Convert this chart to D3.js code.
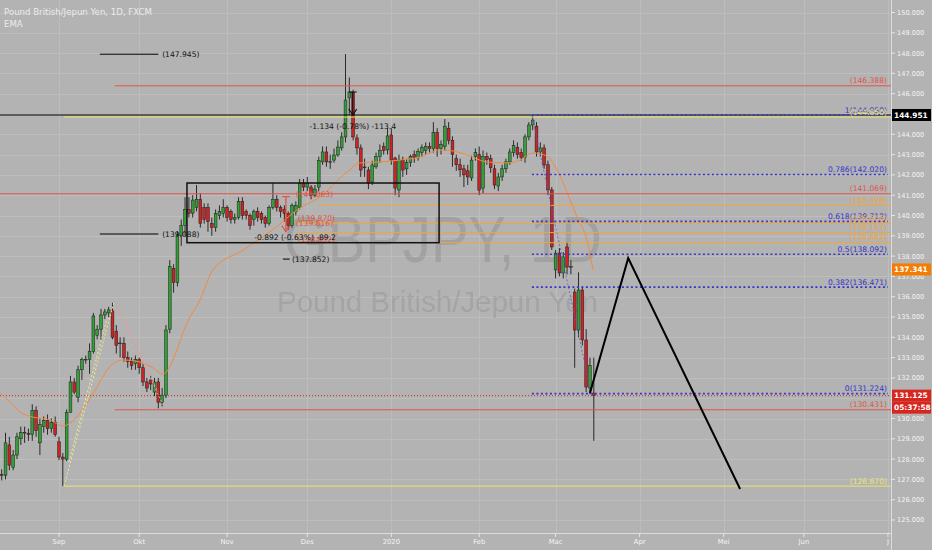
<!DOCTYPE html>
<html><head><meta charset="utf-8">
<script src="https://cdn.jsdelivr.net/npm/d3@7"></script>
<style>body{margin:0;background:#b3b3b3}svg{display:block}</style>
</head><body>
<svg id="c" width="932" height="550"></svg>
<script>
// ---------- DATA ----------
const startIndex = -15; // bar index of first candle (0 = 2 Sep 2019)
const opens = [127.25,127.2,128.7,127.6,128.2,129.0,129.28,129.25,129.2,130.4,128.8,129.6,129.9,129.5,129.8,
128.85,128.1,128.0,130.3,131.8,131.05,132.4,132.88,132.9,133.3,134.1,134.4,135.1,135.2,135.3,134.3,133.68,133.7,133.0,132.8,132.7,132.9,132.5,131.8,131.9,131.3,131.8,130.8,131.15,
134.4,137.4,136.7,139.0,139.5,140.3,140.12,140.4,140.8,140.4,140.4,139.6,139.4,140.0,140.1,140.4,140.2,139.8,139.9,140.7,140.2,140.0,139.8,140.2,140.1,139.9,139.6,140.4,140.8,140.4,140.3,140.1,139.5,140.2,140.4,141.6,141.4,141.4,141.0,
141.4,142.64,143.13,142.62,142.73,142.98,143.33,143.87,145.79,146.08,143.82,143.33,142.35,142.24,141.65,142.4,142.9,143.4,143.23,143.97,142.83,141.26,142.73,142.3,142.6,143.0,142.85,143.1,143.2,143.4,143.3,144.1,143.3,143.4,144.3,143.7,142.8,142.5,142.3,142.2,141.85,142.9,
143.0,141.35,142.9,142.8,142.3,141.45,141.9,142.3,142.64,143.1,143.35,143.1,142.85,143.87,144.46,144.4,143.13,143.33,142.5,141.26,137.32,138.15,137.17,138.45,137.45,136.23,134.36,136.33,133.87,131.5,131.25];
const highs = [127.5,129.3,129.1,128.45,129.3,129.6,129.6,129.5,130.7,130.6,130.0,130.1,130.2,130.0,130.1,
129.1,128.3,130.45,132.1,132.0,132.6,133.0,133.1,133.7,135.2,134.6,135.4,135.4,135.5,135.7,134.6,134.0,134.0,133.3,133.0,133.1,133.0,132.7,132.0,132.1,132.0,132.0,131.5,134.6,
137.8,137.6,139.2,139.8,140.9,140.9,141.0,141.5,141.1,140.6,140.6,139.9,140.3,140.5,140.8,140.5,140.3,140.1,140.9,140.9,140.3,140.1,140.3,140.4,140.2,140.0,140.5,141.6,141.0,140.5,140.5,140.2,140.6,140.7,141.8,141.8,141.9,141.5,141.5,
142.9,143.4,143.4,143.0,143.3,143.7,144.1,147.95,146.8,146.2,144.0,143.5,142.8,142.4,142.7,143.1,143.5,143.6,144.3,144.3,142.9,143.0,142.9,142.8,143.0,143.2,143.3,143.5,143.6,143.6,144.6,144.3,143.7,144.75,144.6,143.9,143.0,142.8,142.5,142.5,142.95,143.3,
143.4,143.2,143.1,143.0,142.5,142.1,142.5,142.8,143.3,143.7,143.6,143.3,144.0,144.6,144.95,144.6,143.6,143.5,142.7,141.4,138.3,138.4,138.2,138.7,137.8,136.4,137.2,136.5,134.4,133.0,133.0];
const lows = [126.95,127.0,127.45,127.45,128.0,128.7,128.8,128.9,128.9,129.1,128.2,129.3,129.2,129.3,129.1,
127.95,126.67,127.9,130.3,131.2,130.8,131.9,132.7,132.2,133.2,133.9,133.9,134.9,135.0,133.9,133.2,133.0,132.8,132.5,132.4,132.4,132.2,131.6,131.3,131.4,131.1,130.5,130.6,131.0,
134.2,136.2,136.5,138.5,139.0,139.9,139.9,140.2,139.4,139.6,139.2,139.0,139.2,139.8,139.9,139.7,139.6,139.6,139.8,139.8,139.8,139.3,139.5,139.7,139.6,139.4,139.5,140.3,140.2,139.9,139.7,139.3,139.4,140.0,140.3,141.2,141.2,140.8,140.9,
141.2,142.5,142.4,142.3,142.6,142.9,143.2,143.6,144.95,143.7,143.0,141.9,141.9,141.3,141.5,142.3,142.6,143.0,143.0,142.5,141.0,140.9,141.9,142.0,142.4,142.6,142.7,142.9,143.0,143.1,143.1,142.9,143.0,143.2,143.5,142.4,142.2,141.9,141.4,141.5,141.7,142.7,
141.0,141.1,142.5,142.1,141.3,141.2,141.7,142.1,142.5,142.9,142.8,142.7,142.6,143.7,144.2,142.9,142.9,142.3,141.0,138.3,136.9,137.0,136.9,137.1,137.1,132.5,134.0,133.6,131.3,131.2,128.9];
const closes = [127.2,128.8,127.7,128.2,129.1,129.3,129.32,129.22,130.4,129.4,129.7,129.9,129.5,129.8,129.2,
128.1,128.0,130.3,131.8,131.3,132.4,132.9,132.92,133.3,135.05,134.4,135.1,135.25,135.35,134.0,133.6,133.72,133.0,132.8,132.6,132.9,132.5,131.8,131.5,131.7,131.8,130.8,131.15,134.36,
137.5,136.7,139.0,139.5,140.3,140.1,140.76,140.8,139.6,139.8,139.7,139.4,140.1,140.2,140.4,139.9,139.8,139.9,140.7,140.0,140.0,139.5,140.2,139.9,139.8,139.6,140.4,140.8,140.4,140.2,140.1,139.5,140.5,140.5,141.6,141.4,141.6,141.0,141.3,
142.7,143.13,142.64,142.66,142.98,143.37,143.87,145.69,146.08,143.87,143.33,142.24,142.39,141.6,142.49,142.9,143.2,143.2,143.92,142.73,141.35,142.73,142.24,142.6,142.9,142.85,143.15,143.35,143.4,143.3,144.1,143.3,143.5,144.4,143.7,143.0,142.5,142.25,142.0,141.9,142.73,143.1,
141.25,142.9,142.75,142.35,141.5,141.9,142.3,142.64,143.13,143.45,143.0,142.85,143.87,144.46,144.70,143.13,143.33,142.49,141.26,138.45,138.15,137.17,137.96,137.46,137.5,134.36,136.33,133.87,131.55,132.6,131.125];

// EMA read at some bar indices
const emaIndex = [-15.4,-12.8,-10.2,-6.8,-2.4,1,2.9,6.3,8.1,10.7,13.3,16.7,21.2,24.6,27.2,28.5,29.8,33.5,36.9,40.3,48.2,55.2,63.1,68.3,75.4,78.8,84,89.3,94.5,99.7,103.1,106.8,112,117.3,120.7,124.1,127.7,130.4,133.8,135.6,138.2,139.8];
const emaValue = [131.26,130.81,130.32,130.07,129.93,129.63,129.78,130.47,130.96,131.8,132.55,132.88,132.78,132.49,132.19,132.39,132.88,134.70,135.84,137.32,138.30,139.19,140.37,140.91,142.14,142.59,142.64,142.73,142.88,143.23,143.18,142.98,142.64,142.59,142.73,143.08,142.93,142.24,140.76,139.93,138.79,137.32];

const priceTicks = d3.range(125, 151, 1);
const monthLabels = ["Sep","Okt","Nov","Des","2020","Feb","Mac","Apr","Mei","Jun","J"];
const monthIndex  = [0,21,44,65,87,110,130,152,174,195,217];

// horizontal drawing levels: price, from bar index (null = left edge), to (null = right), colour key
const levels = [
  {p:146.388, from:14.6, to:null, c:"red"},
  {p:144.951, from:null, to:null, c:"black"},
  {p:144.850, from:1.3,  to:null, c:"yellow"},
  {p:141.069, from:null, to:null, c:"red"},
  {p:140.498, from:68,   to:null, c:"orange"},
  {p:139.616, from:62,   to:null, c:"orange"},
  {p:139.157, from:62,   to:null, c:"orange"},
  {p:138.662, from:62,   to:null, c:"orange"},
  {p:130.431, from:14.6, to:null, c:"red"},
  {p:126.670, from:1.3,  to:null, c:"yellow"},
  {p:147.945, from:10.7, to:26.0, c:"black"},
  {p:139.088, from:10.7, to:26.0, c:"black"},
  {p:137.852, from:58.6, to:60.4, c:"black"}
];
const leftNotes = [
  {t:"(147.945)", p:147.945, i:27.0, c:"black"},
  {t:"(139.088)", p:139.088, i:27.0, c:"black"},
  {t:"(137.852)", p:137.852, i:61.0, c:"black"},
  {t:"(141.063)", p:141.063, i:62.0, c:"redtxt"},
  {t:"(139.870)", p:139.870, i:62.5, c:"redtxt"},
  {t:"(139.616)", p:139.616, i:62.0, c:"redtxt"},
  {t:"(138.852)", p:138.852, i:62.5, c:"redtxt"}
];
// fibonacci retracement
const fibRatio = [1, 0.786, 0.618, 0.5, 0.382, 0];
const fibPrice = [144.950, 142.020, 139.712, 138.092, 136.471, 131.224];
const fibStart = 123.8, fibEnd = 139.3;
const rightNotes = [
  {t:"(146.388)", p:146.388, c:"red"},
  {t:"(144.850)", p:144.850, c:"yellow"},
  {t:"(141.069)", p:141.069, c:"red"},
  {t:"(140.498)", p:140.498, c:"orange"},
  {t:"(139.616)", p:139.616, c:"orange"},
  {t:"(139.157)", p:139.157, c:"orange"},
  {t:"(138.662)", p:138.662, c:"orange"},
  {t:"(130.431)", p:130.431, c:"red"},
  {t:"(126.670)", p:126.670, c:"yellow"}
];
// dashed pattern lines in September
const patternLines = [
  {a:[1.3,126.67], b:[14.4,135.74], c:"yellowd"},
  {a:[2.6,127.86], b:[12.6,134.95], c:"yellowd"},
  {a:[14.7,135.74], b:[27.2,130.67], c:"pinkd"},
  {a:[16.0,135.25], b:[25.9,131.30], c:"pinkd"}
];
// projected path
const zigIndex = [139, 149, 178.3];
const zigPrice = [131.26, 137.9, 126.53];
// box
const boxFrom = 33.5, boxTo = 99.5, boxTop = 141.6, boxBottom = 138.66;
// price range tools
const ranges = [
  {i:76.9, from:146.085, to:144.951, label:"-1.134 (-0.78%) -113.4", c:"black", li:76.9, lp:144.27},
  {i:59.4, from:140.93, to:139.20, label:"-0.892 (-0.63%) -89.2", c:"redtxt", li:61.8, lp:138.78}
];
const axisBoxes = [
  {t:"144.951", p:144.951, bg:"#000000"},
  {t:"137.341", p:137.341, bg:"#f57c00"},
  {t:"131.125", p:131.125, bg:"#d7261e"}
];
const countdown = "05:37:58";
const lastPrice = 131.125;

// ---------- STYLE ----------
const COL = {red:"#e0534a", black:"#000", yellow:"#ece66a", orange:"#f0a63c", blue:"#3535cc",
             redtxt:"#e2503c", yellowd:"#ecec8a", pinkd:"#e89a9a"};
const FONT = "DejaVu Sans, sans-serif";
const W = 932, H = 550, plotR = 891, axisY = 533;

const svg = d3.select("#c");
const x = d3.scaleLinear().domain([0, 100]).range([59, 59 + 382]);
const y = d3.scaleLinear().domain([125, 150]).range([520, 12.5]);

svg.append("rect").attr("width", W).attr("height", H).attr("fill", "#b3b3b3");

// grid
const g = svg.append("g");
g.selectAll(".hg").data(priceTicks).join("line")
  .attr("x1", 0).attr("x2", plotR).attr("y1", d => Math.round(y(d)) + 0.5).attr("y2", d => Math.round(y(d)) + 0.5)
  .attr("stroke", "#bdbdbd").attr("stroke-width", 1);
g.selectAll(".vg").data(monthIndex).join("line")
  .attr("x1", d => Math.round(x(d)) + 0.5).attr("x2", d => Math.round(x(d)) + 0.5).attr("y1", 0).attr("y2", axisY)
  .attr("stroke", "#bdbdbd").attr("stroke-width", 1);

// watermark
svg.append("text").attr("x", 284).attr("y", 262)
  .attr("font-family", "Liberation Sans, Arial, sans-serif").attr("font-size", 64)
  .attr("textLength", 318).attr("lengthAdjust", "spacingAndGlyphs")
  .attr("fill", "rgba(60,60,60,0.15)").text("GBPJPY, 1D");
svg.append("text").attr("x", 277).attr("y", 312)
  .attr("font-family", "Liberation Sans, Arial, sans-serif").attr("font-size", 30)
  .attr("textLength", 321).attr("lengthAdjust", "spacingAndGlyphs")
  .attr("fill", "rgba(60,60,60,0.15)").text("Pound British/Jepun Yen");

// last price dotted line
svg.append("line").attr("x1", 0).attr("x2", plotR).attr("y1", y(lastPrice)).attr("y2", y(lastPrice))
  .attr("stroke", "#d7261e").attr("stroke-width", 1).attr("stroke-dasharray", "1,2");

// candles
const candles = opens.map((o, k) => ({i: startIndex + k, o, h: highs[k], l: lows[k], c: closes[k]}));
const cg = svg.append("g");
cg.selectAll(".wick").data(candles).join("line")
  .attr("x1", d => x(d.i)).attr("x2", d => x(d.i)).attr("y1", d => y(d.h)).attr("y2", d => y(d.l))
  .attr("stroke", "#2a2a2a").attr("stroke-width", 1);
cg.selectAll(".body").data(candles).join("rect")
  .attr("x", d => x(d.i) - 1.4).attr("width", 2.8)
  .attr("y", d => y(Math.max(d.o, d.c)))
  .attr("height", d => Math.max(0.8, Math.abs(y(d.o) - y(d.c))))
  .attr("fill", d => d.c >= d.o ? "#33a037" : "#cc2424")
  .attr("stroke", "#1c1c1c").attr("stroke-width", 0.5);

// EMA
const emaPts = emaIndex.map((v, k) => [v, emaValue[k]]);
svg.append("path").datum(emaPts)
  .attr("d", d3.line().x(d => x(d[0])).y(d => y(d[1])).curve(d3.curveMonotoneX))
  .attr("fill", "none").attr("stroke", "#f28a3c").attr("stroke-width", 1);

// pattern dashed lines
svg.selectAll(".pat").data(patternLines).join("line")
  .attr("x1", d => x(d.a[0])).attr("y1", d => y(d.a[1])).attr("x2", d => x(d.b[0])).attr("y2", d => y(d.b[1]))
  .attr("stroke", d => COL[d.c]).attr("stroke-width", 1).attr("stroke-dasharray", "2,2");

// levels
svg.selectAll(".lvl").data(levels).join("line")
  .attr("x1", d => d.from == null ? 0 : x(d.from)).attr("x2", d => d.to == null ? plotR : x(d.to))
  .attr("y1", d => y(d.p)).attr("y2", d => y(d.p))
  .attr("stroke", d => COL[d.c]).attr("stroke-width", 1);

// fib levels
const fib = fibRatio.map((r, k) => ({r, p: fibPrice[k]}));
svg.selectAll(".fib").data(fib).join("line")
  .attr("x1", x(fibStart)).attr("x2", 888).attr("y1", d => y(d.p)).attr("y2", d => y(d.p))
  .attr("stroke", COL.blue).attr("stroke-width", 1.6).attr("stroke-dasharray", "2,2.5");
svg.append("line").attr("x1", x(fibStart)).attr("y1", y(fibPrice[0])).attr("x2", x(fibEnd)).attr("y2", y(fibPrice[5]))
  .attr("stroke", "#5a5ad0").attr("stroke-width", 0.8).attr("stroke-dasharray", "2,2");
svg.selectAll(".fibt").data(fib).join("text")
  .attr("x", 887).attr("y", d => y(d.p) - 2.5).attr("text-anchor", "end")
  .attr("font-family", FONT).attr("font-size", 7.6).attr("fill", COL.blue)
  .text(d => d.r + "(" + d.p.toFixed(3) + ")");

// right notes
svg.selectAll(".rn").data(rightNotes).join("text")
  .attr("x", 887).attr("y", d => y(d.p) - 2.5).attr("text-anchor", "end")
  .attr("font-family", FONT).attr("font-size", 7.6).attr("fill", d => COL[d.c]).text(d => d.t);

// left notes
svg.selectAll(".ln").data(leftNotes).join("text")
  .attr("x", d => x(d.i)).attr("y", d => y(d.p) + 2.7)
  .attr("font-family", FONT).attr("font-size", 7.6).attr("fill", d => d.c === "black" ? "#111" : COL[d.c]).text(d => d.t);

// box
svg.append("rect").attr("x", x(boxFrom)).attr("y", y(boxTop)).attr("width", x(boxTo) - x(boxFrom))
  .attr("height", y(boxBottom) - y(boxTop)).attr("fill", "none").attr("stroke", "#111").attr("stroke-width", 1.5);

// price ranges
ranges.forEach(r => {
  const col = r.c === "black" ? "#111" : COL[r.c];
  const gx = x(r.i);
  svg.append("line").attr("x1", gx - 4).attr("x2", gx + 4).attr("y1", y(r.from)).attr("y2", y(r.from)).attr("stroke", col);
  svg.append("line").attr("x1", gx).attr("x2", gx).attr("y1", y(r.from)).attr("y2", y(r.to)).attr("stroke", col).attr("stroke-width", 1.2);
  svg.append("path").attr("d", `M${gx-4},${y(r.to)-6}L${gx},${y(r.to)}L${gx+4},${y(r.to)-6}`)
    .attr("fill", "none").attr("stroke", col).attr("stroke-width", 1.2);
  svg.append("text").attr("x", x(r.li)).attr("y", y(r.lp)).attr("text-anchor", "middle")
    .attr("font-family", FONT).attr("font-size", 7.6).attr("fill", "#111").text(r.label);
});

// zigzag projection
const zig = zigIndex.map((v, k) => [v, zigPrice[k]]);
svg.append("path").datum(zig).attr("d", d3.line().x(d => x(d[0])).y(d => y(d[1])))
  .attr("fill", "none").attr("stroke", "#000").attr("stroke-width", 2);

// header
svg.append("text").attr("x", 4).attr("y", 15).attr("font-family", FONT).attr("font-size", 8.6)
  .attr("fill", "#ececec").text("Pound British/Jepun Yen, 1D, FXCM");
svg.append("text").attr("x", 4).attr("y", 27).attr("font-family", FONT).attr("font-size", 8.6)
  .attr("fill", "#ececec").text("EMA");

// right axis
svg.append("line").attr("x1", plotR + 0.5).attr("x2", plotR + 0.5).attr("y1", 0).attr("y2", H).attr("stroke", "#dcdcdc");
svg.append("line").attr("x1", 0).attr("x2", plotR).attr("y1", axisY + 0.5).attr("y2", axisY + 0.5).attr("stroke", "#dcdcdc");
svg.selectAll(".yt").data(priceTicks).join("line")
  .attr("x1", plotR).attr("x2", plotR + 4).attr("y1", d => y(d)).attr("y2", d => y(d)).attr("stroke", "#e6e6e6");
svg.selectAll(".yl").data(priceTicks).join("text")
  .attr("x", 897).attr("y", d => y(d) + 2.4).attr("font-family", FONT).attr("font-size", 6.6)
  .attr("fill", "#f4f4f4").text(d => d.toFixed(3));
svg.selectAll(".xt").data(monthIndex).join("line")
  .attr("x1", d => x(d)).attr("x2", d => x(d)).attr("y1", axisY).attr("y2", axisY + 4).attr("stroke", "#e6e6e6");
svg.selectAll(".xl").data(monthLabels).join("text")
  .attr("x", (d, k) => x(monthIndex[k])).attr("y", 544).attr("text-anchor", "middle")
  .attr("font-family", FONT).attr("font-size", 6.8).attr("fill", "#f4f4f4").text(d => d);

// axis price boxes
axisBoxes.forEach(b => {
  const yy = y(b.p);
  svg.append("rect").attr("x", plotR + 1).attr("y", yy - 6).attr("width", 39).attr("height", 12).attr("fill", b.bg);
  svg.append("text").attr("x", 894).attr("y", yy + 2.6).attr("font-family", FONT).attr("font-size", 7.4)
    .attr("font-weight", "bold").attr("fill", "#fff").text(b.t);
});
{
  const yy = y(lastPrice) + 12;
  svg.append("rect").attr("x", plotR + 1).attr("y", yy - 6).attr("width", 39).attr("height", 12).attr("fill", "#d7261e");
  svg.append("text").attr("x", 894).attr("y", yy + 2.6).attr("font-family", FONT).attr("font-size", 7.4)
    .attr("font-weight", "bold").attr("fill", "#fff").text(countdown);
}
</script>
</body></html>
